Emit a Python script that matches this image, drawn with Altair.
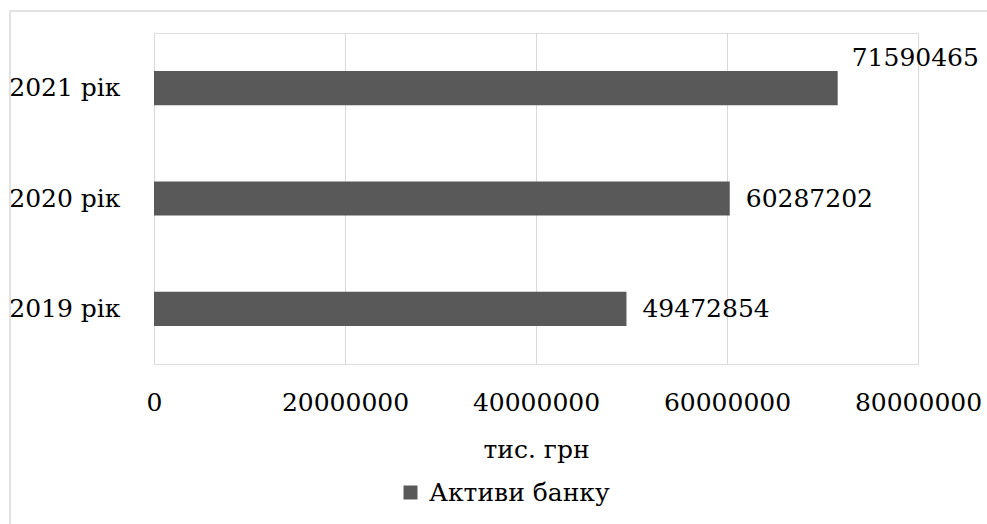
import altair as alt
import pandas as pd

years = ["2021 рік", "2020 рік", "2019 рік"]
values = [71590465, 60287202, 49472854]
series = ["Активи банку"] * 3

df = pd.DataFrame({"year": years, "value": values, "series": series})

FONT = "DejaVu Serif"
FS = 25

x_enc = alt.X("value:Q",
              scale=alt.Scale(domain=[0, 80000000], nice=False),
              axis=alt.Axis(values=[0, 20000000, 40000000, 60000000, 80000000],
                            format="d", title="тис. грн", grid=True,
                            gridColor="#d9d9d9", gridWidth=1, domain=False,
                            ticks=False, labelPadding=26, labelFontSize=FS,
                            labelFont=FONT, labelColor="#000000",
                            labelFlush=False, labelOverlap=False, labelBound=False,
                            titleFont=FONT, titleFontSize=FS, titleFontWeight="normal",
                            titleColor="#000000", titlePadding=22))
y_enc = alt.Y("year:N", sort=years,
              scale=alt.Scale(paddingInner=0.69, paddingOuter=0.345),
              axis=alt.Axis(title=None, domain=False, ticks=False, grid=False,
                            labelPadding=34, labelFontSize=FS, labelFont=FONT,
                            labelColor="#000000"))

base = alt.Chart(df)

bars = base.mark_bar(color="#595959").encode(
    x=x_enc, y=y_enc,
    color=alt.Color("series:N",
                    scale=alt.Scale(range=["#595959"]),
                    legend=alt.Legend(title=None, orient="none", legendX=244, legendY=447,
                                      symbolType="square", symbolSize=196,
                                      symbolStrokeWidth=0, labelLimit=400,
                                      labelFont=FONT, labelFontSize=FS,
                                      labelColor="#000000", labelOffset=6)),
)

labels_low = base.transform_filter(alt.datum.year != "2021 рік").mark_text(
    align="left", baseline="middle", dx=16, font=FONT, fontSize=FS, color="#000000"
).encode(x="value:Q", y=alt.Y("year:N", sort=years), text=alt.Text("value:Q", format="d"))

labels_top = base.transform_filter(alt.datum.year == "2021 рік").mark_text(
    align="left", baseline="middle", dx=14, dy=-30, font=FONT, fontSize=FS, color="#000000"
).encode(x="value:Q", y=alt.Y("year:N", sort=years), text=alt.Text("value:Q", format="d"))

frame = alt.Chart(pd.DataFrame({"a": [0]})).mark_rect(
    fill=None, stroke="#d9d9d9", strokeWidth=1.5, clip=False
).encode(x=alt.value(-144), x2=alt.value(850), y=alt.value(-22), y2=alt.value(510))

chart = alt.layer(frame, bars, labels_low, labels_top).properties(
    width=764, height=331,
    padding={"left": 154, "top": 33, "right": 69, "bottom": 160},
    autosize=alt.AutoSizeParams(type="none"),
).configure_view(stroke=None).configure(background="white", font=FONT)

chart.save("out.html", embed_options={"renderer": "svg", "actions": False})
